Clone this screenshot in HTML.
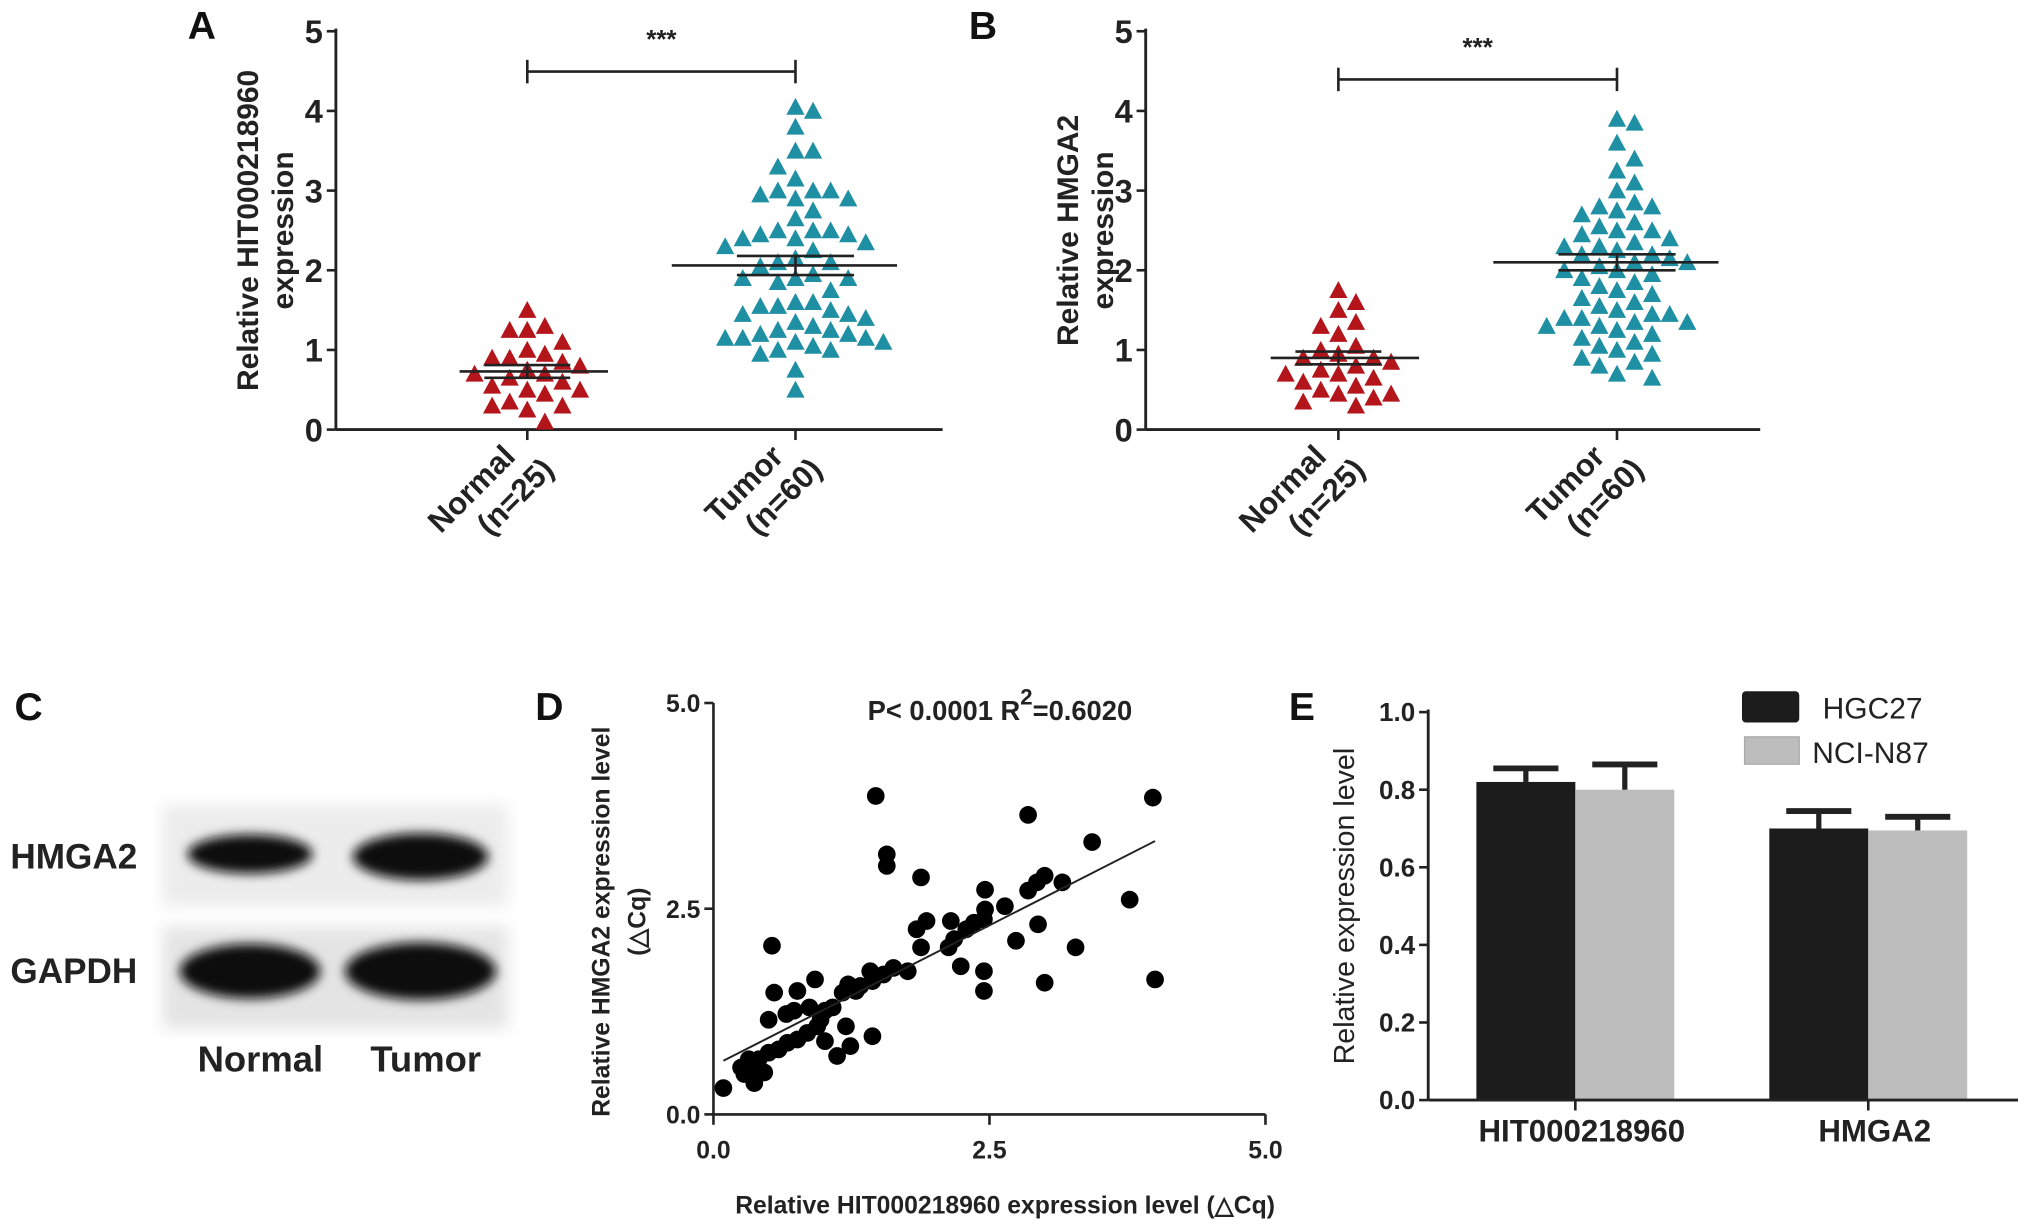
<!DOCTYPE html>
<html><head><meta charset="utf-8"><style>
html,body{margin:0;padding:0;background:#fff;}
svg{display:block;}
text{font-family:"Liberation Sans Narrow","Liberation Sans",sans-serif;}
</style></head><body>
<svg id="fig" width="2031" height="1227" viewBox="0 0 1560 942.5" preserveAspectRatio="none">
<defs>
<filter id="blur" x="-20%" y="-50%" width="140%" height="200%"><feGaussianBlur stdDeviation="4"/></filter>
<filter id="blur2"><feGaussianBlur stdDeviation="6"/></filter>
</defs>
<g id="root"></g>
</svg>
<script>
// ---------- data ----------
const aNormal=[1.5,1.3,1.25,1.25,1.1,1.0,0.95,0.9,0.9,0.85,0.8,0.75,0.7,0.7,0.65,0.6,0.55,0.5,0.5,0.45,0.35,0.3,0.3,0.25,0.1];
const aTumor=[4.05,4.0,3.8,3.5,3.5,3.3,3.15,3.0,3.0,3.0,2.95,2.9,2.9,2.75,2.65,2.5,2.5,2.5,2.45,2.45,2.4,2.4,2.35,2.3,2.25,2.15,2.1,2.1,2.05,1.95,1.9,1.9,1.9,1.85,1.75,1.6,1.6,1.55,1.55,1.5,1.45,1.45,1.4,1.35,1.3,1.25,1.25,1.2,1.2,1.15,1.15,1.15,1.1,1.1,1.05,1.0,1.0,0.95,0.75,0.5];
const bNormal=[1.75,1.6,1.5,1.35,1.3,1.2,1.05,1.0,0.95,0.9,0.9,0.85,0.8,0.75,0.7,0.7,0.65,0.6,0.55,0.5,0.45,0.45,0.4,0.35,0.3];
const bTumor=[3.9,3.85,3.6,3.4,3.25,3.1,3.0,2.85,2.8,2.8,2.75,2.7,2.6,2.55,2.5,2.5,2.45,2.4,2.35,2.3,2.3,2.25,2.2,2.2,2.15,2.1,2.1,2.05,2.0,2.0,1.95,1.9,1.85,1.8,1.75,1.7,1.65,1.6,1.55,1.5,1.45,1.45,1.4,1.4,1.35,1.35,1.3,1.3,1.25,1.2,1.15,1.1,1.05,1.0,0.95,0.9,0.85,0.8,0.7,0.65];
const aMean=[0.73,2.06], aSem=[0.08,0.12];
const bMean=[0.90,2.10], bSem=[0.08,0.10];
const scatterX=[0.09,1.47,3.98,2.85,3.43,1.57,1.57,1.88,2.46,3.16,3.0,2.93,2.85,3.77,2.64,2.46,2.45,2.36,2.29,2.15,1.93,1.84,1.88,2.18,2.13,2.94,2.74,3.28,2.24,2.45,2.45,3.0,4.0,0.53,1.76,1.63,1.54,1.42,1.44,1.33,1.29,1.22,1.17,1.08,1.01,0.92,0.76,0.55,0.87,0.73,0.66,0.5,0.97,0.94,1.2,1.44,1.01,1.24,1.12,0.85,0.76,0.67,0.59,0.5,0.41,0.32,0.25,0.34,0.37,0.46,0.28];
const scatterY=[0.32,3.87,3.85,3.64,3.31,3.16,3.02,2.88,2.73,2.82,2.9,2.82,2.72,2.61,2.53,2.49,2.37,2.33,2.25,2.35,2.35,2.25,2.03,2.13,2.03,2.31,2.11,2.03,1.8,1.74,1.5,1.6,1.64,2.05,1.74,1.78,1.7,1.74,1.62,1.56,1.5,1.58,1.48,1.3,1.26,1.64,1.5,1.48,1.3,1.26,1.22,1.15,1.15,1.07,1.07,0.95,0.89,0.83,0.71,0.99,0.91,0.87,0.79,0.75,0.67,0.67,0.57,0.51,0.38,0.51,0.49];
const fitLine=[0.09,4.0]; const fitSlope=0.683, fitIntercept=0.59;
const barGroups=["HIT000218960","HMGA2"];
const hgc27=[0.82,0.70], hgc27Err=[0.035,0.045];
const nci=[0.80,0.695], nciErr=[0.065,0.035];
const scatterTicks=["0.0","2.5","5.0"];
const barTicks=["0.0","0.2","0.4","0.6","0.8","1.0"];

// ---------- helpers ----------
const NS="http://www.w3.org/2000/svg";
const root=document.getElementById('root');
function el(tag,attrs,parent,txt){const e=document.createElementNS(NS,tag);for(const k in attrs)e.setAttribute(k,attrs[k]);if(txt!==undefined)e.textContent=txt;(parent||root).appendChild(e);return e;}
function grp(name){const g=el('g',{});return g;}
function line(g,x1,y1,x2,y2,w){return el('line',{x1,y1,x2,y2,stroke:'#222','stroke-width':w||2},g);}
function txt(g,x,y,s,size,opts){opts=opts||{};const t=el('text',Object.assign({x,y,'font-size':size,'font-weight':opts.w||'bold','text-anchor':opts.a||'middle',fill:opts.fill||'#222'},opts.attrs||{}),g,s);return t;}

// ---------- dot plot panels ----------
function dotPanel(cfg){
  const g=grp(cfg.name);
  const y=v=>cfg.y0-(cfg.y0-cfg.y5)*v/5;
  const ax=grp(cfg.name+'-y-axis');g.appendChild(ax);
  line(ax,cfg.ax,cfg.y5-2,cfg.ax,cfg.y0,2.2);
  for(let i=0;i<=5;i++){line(ax,cfg.ax-7,y(i),cfg.ax,y(i),2);txt(ax,cfg.ax-10,y(i)+9,String(i),25,{a:'end'});}
  const xa=grp(cfg.name+'-x-axis');g.appendChild(xa);
  line(xa,cfg.ax,cfg.y0,cfg.xEnd,cfg.y0,2.2);
  cfg.cx.forEach(c=>line(xa,c,cfg.y0,c,cfg.y0+8,2));
  const yl=txt(g,0,0,'',23,{attrs:{transform:`translate(${cfg.ylx},${(cfg.y0+cfg.y5)/2}) rotate(-90)`}});
  
  cfg.ylabel.forEach((s,i)=>{el('tspan',{x:0,dy:i?27:0},yl,s);});
  const lbls=[['Normal','(n=25)'],['Tumor','(n=60)']];
  lbls.forEach((L,i)=>{
    const t=txt(g,0,0,'',24,{a:'end',attrs:{transform:`translate(${cfg.cx[i]-8},${cfg.y0+22}) rotate(-45)`}});
    
    el('tspan',{x:0,dy:0},t,L[0]);el('tspan',{x:14,dy:28},t,L[1]);
  });
  const s=grp(cfg.name+'-significance');g.appendChild(s);
  line(s,cfg.cx[0],cfg.sigY,cfg.cx[1],cfg.sigY,2);
  line(s,cfg.cx[0],cfg.sigY-9,cfg.cx[0],cfg.sigY+9,2);line(s,cfg.cx[1],cfg.sigY-9,cfg.cx[1],cfg.sigY+9,2);
  txt(s,(cfg.cx[0]+cfg.cx[1])/2,cfg.sigY-18,'***',20);
  [cfg.normal,cfg.tumor].forEach((vals,gi)=>{
    const pg=grp(cfg.name+(gi?'-tumor-points':'-normal-points'));g.appendChild(pg);
    const placed=[];
    const sorted=vals.map(v=>v).sort((a,b)=>b-a);
    sorted.forEach(v=>{
      const py=y(v);let off=0;
      for(let k=0;k<40;k++){
        const cand=(k%2?1:-1)*Math.ceil(k/2)*13.5;
        if(placed.every(p=>Math.abs(p[0]-cand)>=13||Math.abs(p[1]-py)>=13)){off=cand;break;}
      }
      placed.push([off,py]);
      const x=cfg.cx[gi]+off;
      const tri=el('polygon',{points:`${x-7},${py+6} ${x+7},${py+6} ${x},${py-7}`,fill:gi?'#1f8fa3':'#b3151b'},pg);
      
    });
  });
  const m=grp(cfg.name+'-mean-sem');g.appendChild(m);
  [0,1].forEach(i=>{
    const c=cfg.cx[i];
    line(m,c-[52,95][i],y(cfg.mean[i]),c+[62,78][i],y(cfg.mean[i]),2);
    line(m,c-[33,45][i],y(cfg.mean[i]+cfg.sem[i]),c+[33,45][i],y(cfg.mean[i]+cfg.sem[i]),2);
    line(m,c-[33,45][i],y(cfg.mean[i]-cfg.sem[i]),c+[33,45][i],y(cfg.mean[i]-cfg.sem[i]),2);
    line(m,c,y(cfg.mean[i]+cfg.sem[i]),c,y(cfg.mean[i]-cfg.sem[i]),2);
  });
  txt(g,cfg.letterX,30,cfg.letter,30,{a:'middle',fill:'#111'});
}
dotPanel({name:'panel-a',ax:258,y0:330,y5:24,xEnd:724,cx:[405,611],normal:aNormal,tumor:aTumor,mean:aMean,sem:aSem,sigY:55,ylabel:['Relative HIT000218960','expression'],ylx:198,letter:'A',letterX:155});
dotPanel({name:'panel-b',ax:880,y0:330,y5:24,xEnd:1352,cx:[1028,1242],normal:bNormal,tumor:bTumor,mean:bMean,sem:bSem,sigY:61,ylabel:['Relative HMGA2','expression'],ylx:828,letter:'B',letterX:755});

// ---------- panel C western blot ----------
(function(){
  const g=grp('panel-c-western-blot');
  txt(g,22,553,'C',30,{fill:'#111'});
  el('rect',{x:125,y:618,width:265,height:78,fill:'#ececec',filter:'url(#blur2)'},g);
  el('rect',{x:125,y:712,width:265,height:78,fill:'#e4e4e4',filter:'url(#blur2)'},g);
  [[192,656,48,15],[323,658,52,18],[192,746,54,21],[323,746,58,22]].forEach((b,i)=>{
    const e=el('ellipse',{cx:b[0],cy:b[1],rx:b[2],ry:b[3],fill:'#111',filter:'url(#blur)'},g);
    
  });
  txt(g,8,667,'HMGA2',27,{a:'start'});
  txt(g,8,755,'GAPDH',27,{a:'start'});
  txt(g,200,823,'Normal',28);
  txt(g,327,823,'Tumor',28);
})();

// ---------- panel D scatter ----------
(function(){
  const g=grp('panel-d-scatter');
  const X0=548,X1=972,Y0=856,Y1=540;
  const sx=v=>X0+(X1-X0)*v/5, sy=v=>Y0-(Y0-Y1)*v/5;
  txt(g,422,553,'D',30,{fill:'#111'});
  const ya=grp('panel-d-y-axis');g.appendChild(ya);
  line(ya,X0,Y1,X0,Y0,2);
  scatterTicks.forEach(t=>{const v=parseFloat(t);line(ya,X0-7,sy(v),X0,sy(v),2);txt(ya,X0-10,sy(v)+7,t,19,{a:'end'});});
  const xa=grp('panel-d-x-axis');g.appendChild(xa);
  line(xa,X0,Y0,X1,Y0,2);
  scatterTicks.forEach(t=>{const v=parseFloat(t);line(xa,sx(v),Y0,sx(v),Y0+8,2);txt(xa,sx(v),Y0+34,t,19);});
  const yl=txt(g,0,0,'',19,{attrs:{transform:`translate(468,${(Y0+Y1)/2+10}) rotate(-90)`}});
  
  el('tspan',{x:0,dy:0},yl,'Relative HMGA2 expression level');el('tspan',{x:0,dy:28},yl,'(△Cq)');
  txt(g,772,932,'Relative HIT000218960 expression level  (△Cq)',19);
  const st=txt(g,768,553,'',21);
  el('tspan',{},st,'P< 0.0001  R');el('tspan',{dy:-12,'font-size':17},st,'2');el('tspan',{dy:12},st,'=0.6020');
  const pg=grp('panel-d-points');g.appendChild(pg);
  scatterX.forEach((v,i)=>{
    const c=el('circle',{cx:sx(v),cy:sy(scatterY[i]),r:6.8,fill:'#000'},pg);
    
  });
  const fl=el('line',{x1:sx(fitLine[0]),y1:sy(fitIntercept+fitSlope*fitLine[0]),x2:sx(fitLine[1]),y2:sy(fitIntercept+fitSlope*fitLine[1]),stroke:'#222','stroke-width':1.5},g);
  
})();

// ---------- panel E bars ----------
(function(){
  const g=grp('panel-e-bar-chart');
  const X0=1097,X1=1550,Y0=845,Y1=547;
  const sy=v=>Y0-(Y0-Y1)*v;
  txt(g,1000,553,'E',30,{fill:'#111'});
  const ya=grp('panel-e-y-axis');g.appendChild(ya);
  line(ya,X0,Y1-2,X0,Y0,2.2);
  barTicks.forEach(t=>{const v=parseFloat(t);line(ya,X0-7,sy(v),X0,sy(v),2);txt(ya,X0-10,sy(v)+7,t,20,{a:'end'});});
  const yl=txt(g,0,0,'Relative expression level',22,{w:'normal',attrs:{transform:`translate(1040,${(Y0+Y1)/2}) rotate(-90)`}});
  
  const groupCenters=[1210,1435]; const bw=76;
  const bg=grp('panel-e-bars');g.appendChild(bg);
  barGroups.forEach((name,i)=>{
    const c=groupCenters[i];
    [[hgc27,hgc27Err,'#1c1c1c',c-bw],[nci,nciErr,'#bdbdbd',c]].forEach(s=>{
      const v=s[0][i],e=s[1][i];
      const r=el('rect',{x:s[3],y:sy(v),width:bw,height:Y0-sy(v),fill:s[2]},bg);
      
      const cx=s[3]+bw/2;
      line(bg,cx,sy(v),cx,sy(v+e),4);line(bg,cx-25,sy(v+e),cx+25,sy(v+e),4.5);
    });
  });
  const xa=grp('panel-e-x-axis');g.appendChild(xa);
  line(xa,X0,Y0,X1,Y0,2.2);
  barGroups.forEach((n,i)=>{line(xa,groupCenters[i],Y0,groupCenters[i],Y0+8,2);txt(xa,groupCenters[i]+5,Y0+32,n,24);});
  const lg=grp('panel-e-legend');g.appendChild(lg);
  el('rect',{x:1338,y:531,width:44,height:24,rx:3,fill:'#1c1c1c'},lg);
  el('rect',{x:1340,y:566,width:42,height:21,fill:'#bdbdbd',stroke:'#aaa'},lg);
  txt(lg,1400,552,'HGC27',23,{a:'start',w:'normal'});
  txt(lg,1392,586,'NCI-N87',23,{a:'start',w:'normal'});
})();
</script>
</body></html>
